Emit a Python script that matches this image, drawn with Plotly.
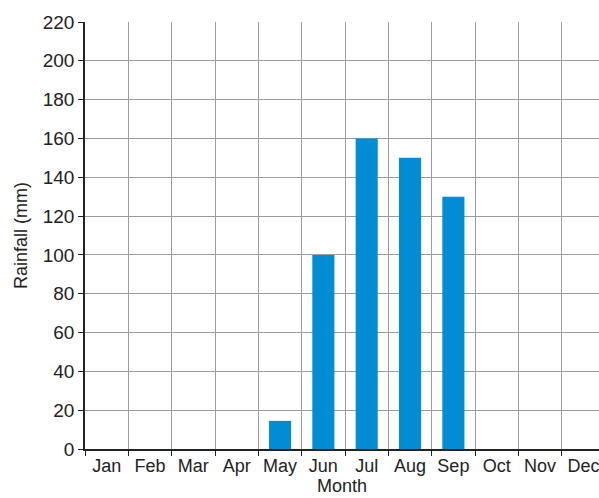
import plotly.graph_objects as go

months = ["Jan", "Feb", "Mar", "Apr", "May", "Jun", "Jul", "Aug", "Sep", "Oct", "Nov", "Dec"]
rainfall = [0, 0, 0, 0, 14.5, 100, 160, 150, 130, 0, 0, 0]
y_ticks = list(range(0, 221, 20))

fig = go.Figure(go.Bar(x=months, y=rainfall, marker=dict(color="#008dd4", line=dict(width=0))))

fam = "Liberation Sans, Arial, sans-serif"
font = dict(family=fam, size=18, color="#222222")
fig.update_layout(
    width=599, height=498,
    margin=dict(l=85, r=0, t=22, b=49),
    paper_bgcolor="white", plot_bgcolor="white",
    font=font, bargap=0.49, showlegend=False,
)
fig.update_xaxes(
    range=[-0.5, 11.36], tickson="boundaries", ticks="outside", ticklen=5, tickcolor="#222",
    showgrid=True, gridcolor="#9c9c9c", gridwidth=1, automargin=False, tickangle=0,
    showline=True, linecolor="#222", linewidth=1.5,
    title=dict(text="Month", standoff=4, font=dict(family=fam, size=18, color="#222")),
    tickfont=dict(family=fam, size=18, color="#222"),
)
fig.update_yaxes(
    range=[0, 220], tickvals=y_ticks, ticks="outside", ticklen=5, tickcolor="#222",
    showgrid=True, gridcolor="#9c9c9c", gridwidth=1, zeroline=False, automargin=False,
    showline=True, linecolor="#222", linewidth=1.5,
    title=dict(text="Rainfall (mm)", standoff=10, font=dict(family=fam, size=18, color="#222")),
    tickfont=dict(family=fam, size=19, color="#222"),
)
fig.write_html(
    "out.html",
    config={"displayModeBar": False},
    post_script="document.body.style.margin='0px';document.body.style.overflow='hidden';",
)
